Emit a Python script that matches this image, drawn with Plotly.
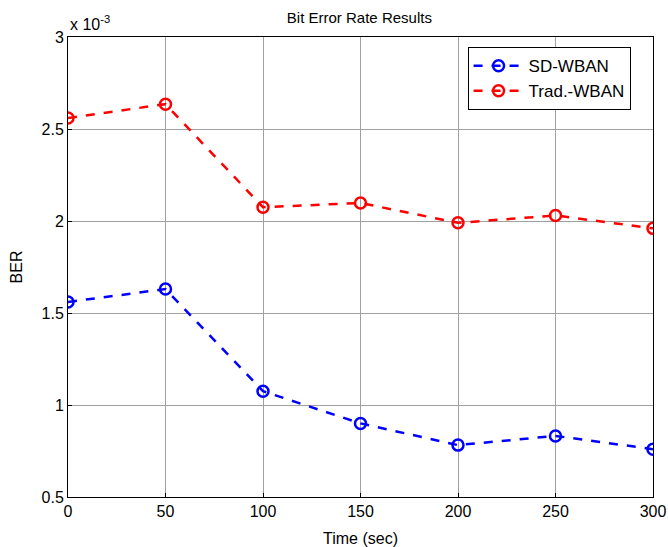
import plotly.graph_objects as go

time_sec = [0, 50, 100, 150, 200, 250, 300]
sd_wban = [1.56, 1.63, 1.075, 0.90, 0.782, 0.832, 0.76]   # x 1e-3
trad_wban = [2.56, 2.635, 2.075, 2.098, 1.99, 2.03, 1.96]  # x 1e-3
x_ticks = [0, 50, 100, 150, 200, 250, 300]
y_ticks = [0.5, 1, 1.5, 2, 2.5, 3]
y_ticklabels = ["0.5", "1", "1.5", "2", "2.5", "3"]

font = "Liberation Sans, Arial, sans-serif"

fig = go.Figure()
fig.add_trace(go.Scatter(
    x=time_sec, y=sd_wban, name="SD-WBAN", mode="lines+markers",
    line=dict(color="#0000ff", width=2.5, dash="dash"),
    marker=dict(symbol="circle-open", size=11, color="#0000ff", line=dict(width=2.5))))
fig.add_trace(go.Scatter(
    x=time_sec, y=trad_wban, name="Trad.-WBAN", mode="lines+markers",
    line=dict(color="#ff0000", width=2.5, dash="dash"),
    marker=dict(symbol="circle-open", size=11, color="#ff0000", line=dict(width=2.5))))

axis_common = dict(showline=True, linecolor="black", linewidth=1, mirror=True,
                   showgrid=True, gridcolor="#a0a0a0", gridwidth=1,
                   ticks="inside", ticklen=4, tickcolor="black", zeroline=False,
                   automargin=False,
                   tickfont=dict(size=16, color="black", family=font))

fig.update_layout(
    width=668, height=547,
    margin=dict(l=68, r=15, t=37, b=50),
    paper_bgcolor="white", plot_bgcolor="white",
    font=dict(family=font, color="black", size=15),
    title=dict(text="Bit Error Rate Results", x=0.538, xanchor="center", y=0.978, yanchor="top",
               font=dict(size=15, family=font)),
    xaxis=dict(range=[0, 300], tickvals=x_ticks,
               title=dict(text="Time (sec)", font=dict(size=16), standoff=14), **axis_common),
    yaxis=dict(range=[0.5, 3], tickvals=y_ticks, ticktext=y_ticklabels,
               title=dict(text="BER", font=dict(size=16), standoff=14), **axis_common),
    legend=dict(x=0.683, y=0.978, xanchor="left", yanchor="top",
                bgcolor="white", bordercolor="black", borderwidth=1,
                font=dict(size=17, family=font), tracegroupgap=2, itemwidth=50),
    showlegend=True,
)
fig.add_annotation(xref="paper", yref="paper", x=0.0, y=1.0, xanchor="left", yanchor="bottom",
                   text="x 10<sup>-3</sup>", showarrow=False, yshift=2,
                   font=dict(size=16, family=font))

fig.write_html("out.html")
